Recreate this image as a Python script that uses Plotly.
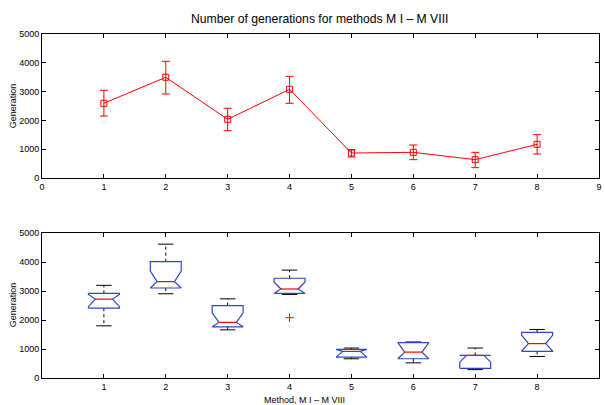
import plotly.graph_objects as go

# ---- data ----
methods = [1, 2, 3, 4, 5, 6, 7, 8]
mean_gen = [2594, 3497, 2037, 3079, 868, 891, 637, 1169]
err_plus = [451, 554, 383, 451, 115, 255, 254, 336]
err_minus = [441, 580, 394, 485, 139, 254, 278, 336]

whisk_lo = [1800, 2905, 1661, 2882, 663, 523, 290, 743]
q1 = [2407, 3104, 1766, 2917, 719, 663, 335, 917]
median = [2720, 3324, 1918, 3069, 917, 893, 778, 1186]
q3 = [2916, 4011, 2498, 3440, 987, 1221, 778, 1570]
whisk_hi = [3195, 4616, 2730, 3720, 1033, 1242, 1033, 1674]
notch_lo = [2460, 2960, 1600, 2825, 660, 540, 545, 930]
notch_hi = [2880, 3683, 2250, 3313, 1170, 1250, 1010, 1470]
outlier_x = [4]
outlier_y = [2080]
top_ticks = [0, 1, 2, 3, 4, 5, 6, 7, 8, 9]

title_text = "Number of generations for methods M I \u2013 M VIII"
ylab = "Generation"
xlab = "Method, M I \u2013 M VIII"

# ---- style ----
RED = "#ff0000"
BLUE = "#2a48c4"
FONT = "Liberation Sans, Arial, sans-serif"
HW = 0.25     # box half width
NW = 0.14     # notch half width at median
CW = 0.125    # whisker cap half width

fig = go.Figure()

# top: mean with error bars
fig.add_trace(go.Scatter(
    x=methods, y=mean_gen, mode="lines+markers",
    line=dict(color=RED, width=1),
    marker=dict(symbol="square-open", size=6, color=RED, line=dict(width=1, color=RED)),
    error_y=dict(type="data", array=err_plus, arrayminus=err_minus, symmetric=False,
                 color=RED, thickness=1, width=4),
    xaxis="x", yaxis="y", showlegend=False, hoverinfo="skip"))

# bottom: notched boxplots built from stats
bx, by = [], []
mx, my = [], []
wx, wy = [], []
cx, cy = [], []
for i, m in enumerate(methods):
    nh = min(notch_hi[i], q3[i])
    nl = max(notch_lo[i], q1[i])
    L, R = m - HW, m + HW
    Li, Ri = m - NW, m + NW
    bx += [L, L, Li, L, L, R, R, Ri, R, R, L, None]
    by += [q1[i], nl, median[i], nh, q3[i], q3[i], nh, median[i], nl, q1[i], q1[i], None]
    mx += [Li, Ri, None]
    my += [median[i], median[i], None]
    wx += [m, m, None, m, m, None]
    wy += [q3[i], whisk_hi[i], None, q1[i], whisk_lo[i], None]
    cx += [m - CW, m + CW, None, m - CW, m + CW, None]
    cy += [whisk_hi[i], whisk_hi[i], None, whisk_lo[i], whisk_lo[i], None]

fig.add_trace(go.Scatter(x=wx, y=wy, mode="lines", line=dict(color="black", width=1, dash="dot"),
                         xaxis="x2", yaxis="y2", showlegend=False, hoverinfo="skip"))
fig.add_trace(go.Scatter(x=cx, y=cy, mode="lines", line=dict(color="black", width=1),
                         xaxis="x2", yaxis="y2", showlegend=False, hoverinfo="skip"))
fig.add_trace(go.Scatter(x=bx, y=by, mode="lines", line=dict(color=BLUE, width=1.2),
                         xaxis="x2", yaxis="y2", showlegend=False, hoverinfo="skip"))
fig.add_trace(go.Scatter(x=mx, y=my, mode="lines", line=dict(color=RED, width=1.2),
                         xaxis="x2", yaxis="y2", showlegend=False, hoverinfo="skip"))
fig.add_trace(go.Scatter(x=outlier_x, y=outlier_y, mode="markers",
                         marker=dict(symbol="cross-thin", size=6, line=dict(color=RED, width=1)),
                         xaxis="x2", yaxis="y2", showlegend=False, hoverinfo="skip"))

axis_common = dict(showline=True, linecolor="black", linewidth=1, mirror="allticks",
                   ticks="inside", ticklen=4, tickcolor="black", showgrid=False, zeroline=False,
                   tickfont=dict(family=FONT, size=9, color="black"))

fig.update_layout(
    width=605, height=405,
    margin=dict(l=42, r=3, t=34, b=27),
    paper_bgcolor="white", plot_bgcolor="white",
    xaxis=dict(domain=[0, 1], range=[0, 9], tickvals=top_ticks, anchor="y", **axis_common),
    yaxis=dict(domain=[0.5814, 1], range=[0, 5000], dtick=1000, anchor="x", **axis_common),
    xaxis2=dict(domain=[0, 1], range=[0, 9], tickvals=methods, anchor="y2", **axis_common),
    yaxis2=dict(domain=[0, 0.4215], range=[0, 5000], dtick=1000, anchor="x2", **axis_common),
    annotations=[
        dict(text=title_text, xref="paper", yref="paper", x=0.499, y=1.0436, showarrow=False,
             xanchor="center", yanchor="middle", font=dict(family=FONT, size=12.2, color="black")),
        dict(text=ylab, xref="paper", yref="paper", x=-0.0517, y=0.7907, showarrow=False,
             textangle=-90, xanchor="center", yanchor="middle", font=dict(family=FONT, size=9, color="black")),
        dict(text=ylab, xref="paper", yref="paper", x=-0.0517, y=0.2122, showarrow=False,
             textangle=-90, xanchor="center", yanchor="middle", font=dict(family=FONT, size=9, color="black")),
        dict(text=xlab, xref="paper", yref="paper", x=0.472, y=-0.064, showarrow=False,
             xanchor="center", yanchor="middle", font=dict(family=FONT, size=9, color="black")),
    ],
)

fig.write_html("out.html", config={"displayModeBar": False},
               post_script="document.body.style.margin='0';document.body.style.overflow='hidden';")
